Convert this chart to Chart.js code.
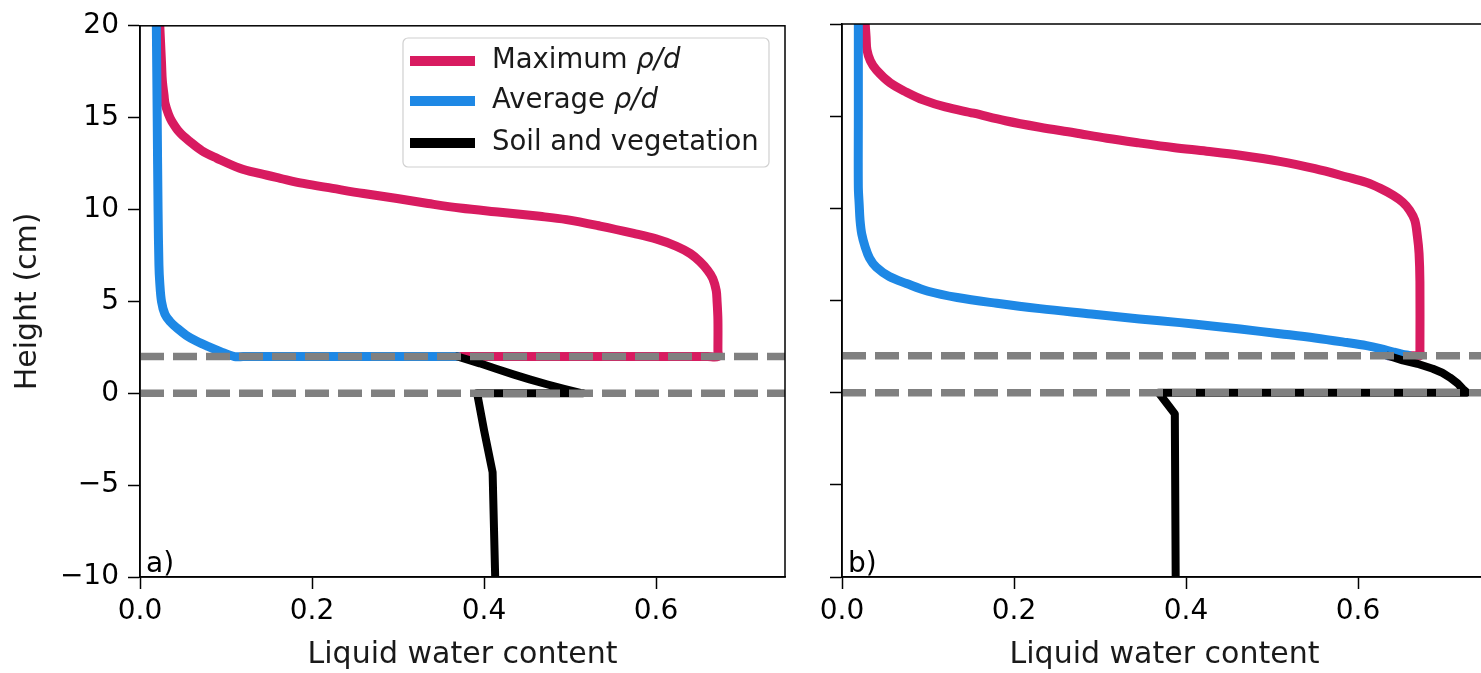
<!DOCTYPE html>
<html><head><meta charset="utf-8">
<script src="https://cdn.jsdelivr.net/npm/chart.js@4.4.1/dist/chart.umd.min.js"></script>
<style>
html,body{margin:0;padding:0;background:#fff;overflow:hidden;width:1481px;height:673px;position:relative;}
canvas{position:absolute;top:0;}
#c1{left:0;}
#c2{left:790px;}
</style></head><body>
<canvas id="c1" width="800" height="673"></canvas>
<canvas id="c2" width="720" height="673"></canvas>
<script>
// ---- tick labels / categories ----
const xTicks = [0, 0.2, 0.4, 0.6];
const yTicks = [-10, -5, 0, 5, 10, 15, 20];
const xTitle = 'Liquid water content';
const yTitle = 'Height (cm)';
const panelLabels = ['a)', 'b)'];
const legendText = ['Maximum ', 'Average ', 'Soil and vegetation'];
const legendItalic = ['ρ/d', 'ρ/d', ''];
const refHeights = [2, 0];

// ---- panel a) series: [liquid water content, height cm] ----
const aMax = [[0.023,20],[0.025,18],[0.026,17],[0.028,16.2],[0.029,15.8],[0.033,15.2],[0.037,14.8],[0.046,14.2],[0.058,13.7],[0.072,13.2],[0.089,12.8],[0.116,12.25],[0.14,11.95],[0.163,11.7],[0.19,11.42],[0.224,11.15],[0.26,10.87],[0.299,10.6],[0.335,10.33],[0.372,10.08],[0.419,9.85],[0.465,9.63],[0.496,9.45],[0.535,9.1],[0.574,8.7],[0.6,8.4],[0.624,8.0],[0.64,7.6],[0.651,7.17],[0.66,6.7],[0.666,6.25],[0.67,5.6],[0.671,5.0],[0.672,4.0],[0.672,2.3],[0.672,2.0],[0.66,2.0],[0.369,2.0]];
const aAvg = [[0.019,20],[0.02,15],[0.021,10],[0.022,7],[0.023,6],[0.025,5],[0.029,4.3],[0.035,3.9],[0.043,3.55],[0.054,3.15],[0.066,2.83],[0.079,2.55],[0.093,2.28],[0.11,2.0],[0.12,2.0],[0.369,2.0]];
const aSoil = [[0.369,2.0],[0.382,1.82],[0.395,1.63],[0.414,1.33],[0.434,1.03],[0.453,0.76],[0.473,0.49],[0.493,0.24],[0.512,0.02],[0.515,0.0],[0.392,0.0],[0.4,-2],[0.41,-4.3],[0.413,-10]];

// ---- panel b) series ----
const bMax = [[0.027,20],[0.028,19.3],[0.029,18.6],[0.033,18],[0.04,17.5],[0.056,16.8],[0.075,16.3],[0.095,15.87],[0.12,15.5],[0.153,15.16],[0.19,14.75],[0.23,14.4],[0.27,14.1],[0.308,13.8],[0.345,13.55],[0.385,13.3],[0.424,13.1],[0.463,12.88],[0.509,12.55],[0.55,12.15],[0.587,11.7],[0.61,11.4],[0.626,11.08],[0.641,10.7],[0.652,10.33],[0.66,9.9],[0.666,9.35],[0.669,8.5],[0.671,7.55],[0.672,6],[0.672,2.3],[0.672,2.0],[0.665,2.0],[0.635,2.0]];
const bAvg = [[0.019,20],[0.019,15],[0.019,11.15],[0.02,10.2],[0.021,9.35],[0.023,8.6],[0.027,7.9],[0.032,7.3],[0.04,6.8],[0.055,6.3],[0.075,5.92],[0.1,5.5],[0.134,5.16],[0.18,4.85],[0.23,4.56],[0.29,4.27],[0.346,4.0],[0.393,3.8],[0.43,3.62],[0.463,3.45],[0.509,3.2],[0.55,2.97],[0.587,2.72],[0.61,2.55],[0.626,2.39],[0.64,2.22],[0.652,2.08],[0.66,2.0],[0.635,2.0]];
const bSoil = [[0.635,2.0],[0.652,1.75],[0.669,1.57],[0.687,1.3],[0.698,1.08],[0.707,0.82],[0.716,0.5],[0.722,0.2],[0.727,0.0],[0.368,0.0],[0.378,-0.6],[0.387,-1.15],[0.388,-10]];

const COLORS = {max:'#D81B60', avg:'#1E88E5', soil:'#000000', ref:'#808080'};
const FONT = 'DejaVu Sans';
const X_MIN = 0, X_MAX = 0.75, Y_MIN = -10, Y_MAX = 20;

const toXY = arr => arr.map(p => ({x:p[0], y:p[1]}));
const fmtY = v => v < 0 ? '\u2212' + Math.abs(v) : String(v);

function lineDs(label, arr, color, width, order, tension){
  return {label, data: toXY(arr), borderColor: color, backgroundColor: color, borderWidth: width,
    pointRadius: 0, tension, fill: false, order, clip: 0,
    borderCapStyle: 'round', borderJoinStyle: 'round'};
}
function refDs(h){
  return {label: 'ref' + h, data: [{x:X_MIN, y:h}, {x:X_MAX, y:h}], borderColor: COLORS.ref,
    borderWidth: 7.5, borderDash: [24, 9], pointRadius: 0, tension: 0, fill: false, order: 0, clip: 0,
    borderCapStyle: 'butt'};
}

const framePlugin = {
  id: 'frame',
  afterDraw(chart){
    const {ctx, chartArea: a} = chart;
    ctx.save();
    ctx.strokeStyle = '#000'; ctx.lineWidth = 1.5;
    ctx.strokeRect(a.left, a.top, a.right - a.left, a.bottom - a.top);
    ctx.fillStyle = '#000';
    ctx.font = '28px "' + FONT + '"';
    ctx.textBaseline = 'alphabetic'; ctx.textAlign = 'left';
    ctx.fillText(chart.options.plugins.frame.label, a.left + 6, a.bottom - 5);
    ctx.restore();
  }
};

const legendPlugin = {
  id: 'mylegend',
  afterDraw(chart){
    const o = chart.options.plugins.mylegend;
    if (!o || !o.show) return;
    const ctx = chart.ctx;
    const bx = 403, by = 38, bw = 366, bh = 129, r = 5;
    ctx.save();
    ctx.beginPath();
    ctx.moveTo(bx + r, by); ctx.lineTo(bx + bw - r, by); ctx.arcTo(bx + bw, by, bx + bw, by + r, r);
    ctx.lineTo(bx + bw, by + bh - r); ctx.arcTo(bx + bw, by + bh, bx + bw - r, by + bh, r);
    ctx.lineTo(bx + r, by + bh); ctx.arcTo(bx, by + bh, bx, by + bh - r, r);
    ctx.lineTo(bx, by + r); ctx.arcTo(bx, by, bx + r, by, r); ctx.closePath();
    ctx.fillStyle = 'rgba(255,255,255,0.85)'; ctx.fill();
    ctx.strokeStyle = '#d0d0d0'; ctx.lineWidth = 1.2; ctx.stroke();
    const cols = [COLORS.max, COLORS.avg, COLORS.soil];
    const rows = [61, 101, 143];
    for (let i = 0; i < 3; i++){
      ctx.strokeStyle = cols[i]; ctx.lineWidth = 10; ctx.lineCap = 'butt';
      ctx.beginPath(); ctx.moveTo(410, rows[i]); ctx.lineTo(475, rows[i]); ctx.stroke();
      ctx.fillStyle = '#1a1a1a'; ctx.textBaseline = 'middle'; ctx.textAlign = 'left';
      ctx.font = '27.5px "' + FONT + '"';
      ctx.fillText(legendText[i], 492, rows[i]);
      const w = ctx.measureText(legendText[i]).width;
      if (legendItalic[i]){
        ctx.font = 'italic 27.5px "' + FONT + '"';
        ctx.fillText(legendItalic[i], 492 + w, rows[i]);
      }
    }
    ctx.restore();
  }
};

function makePanel(id, maxArr, avgArr, soilArr, showY, yWidth, padRight, label, showLegend){
  const ctx = document.getElementById(id);
  return new Chart(ctx, {
    type: 'line',
    data: {datasets: [
      refDs(refHeights[0]), refDs(refHeights[1]),
      lineDs('Soil and vegetation', soilArr, COLORS.soil, 8, 1, 0),
      lineDs('Average ρ/d', avgArr, COLORS.avg, 9, 2, 0.35),
      lineDs('Maximum ρ/d', maxArr, COLORS.max, 9, 3, 0.35)
    ]},
    options: {
      responsive: false, animation: false, devicePixelRatio: 1,
      layout: {padding: {left: 0, right: padRight, top: 24, bottom: 0}},
      plugins: {legend: {display: false}, tooltip: {enabled: false}, frame: {label}, mylegend: {show: showLegend}},
      scales: {
        x: {type: 'linear', min: X_MIN, max: X_MAX,
          afterBuildTicks: s => { s.ticks = xTicks.map(v => ({value: v})); },
          ticks: {callback: v => Number(v).toFixed(1), font: {family: FONT, size: 28}, color: '#000', padding: 6, maxRotation: 0, autoSkip: false},
          grid: {drawOnChartArea: false, drawTicks: true, tickLength: 12, tickColor: '#000', tickWidth: 1.5},
          border: {display: true, color: '#000', width: 1.5},
          title: {display: true, text: xTitle, font: {family: FONT, size: 30}, color: '#1a1a1a', padding: {top: 0, bottom: 0}},
          afterFit: s => { s.height = 96; }
        },
        y: {type: 'linear', min: Y_MIN, max: Y_MAX,
          afterBuildTicks: s => { s.ticks = yTicks.map(v => ({value: v})); },
          ticks: {display: showY, callback: v => fmtY(v), font: {family: FONT, size: 28}, color: '#000', padding: 9},
          grid: {drawOnChartArea: false, drawTicks: true, tickLength: 12, tickColor: '#000', tickWidth: 1.5},
          border: {display: true, color: '#000', width: 1.5},
          title: {display: showY, text: yTitle, font: {family: FONT, size: 30}, color: '#1a1a1a', padding: {top: 10, bottom: 0}},
          afterFit: s => { s.width = yWidth; }
        }
      }
    },
    plugins: [framePlugin, legendPlugin]
  });
}

makePanel('c1', aMax, aAvg, aSoil, true, 140, 15, panelLabels[0], true);
makePanel('c2', bMax, bAvg, bSoil, false, 52, 23, panelLabels[1], false);
</script>
</body></html>
